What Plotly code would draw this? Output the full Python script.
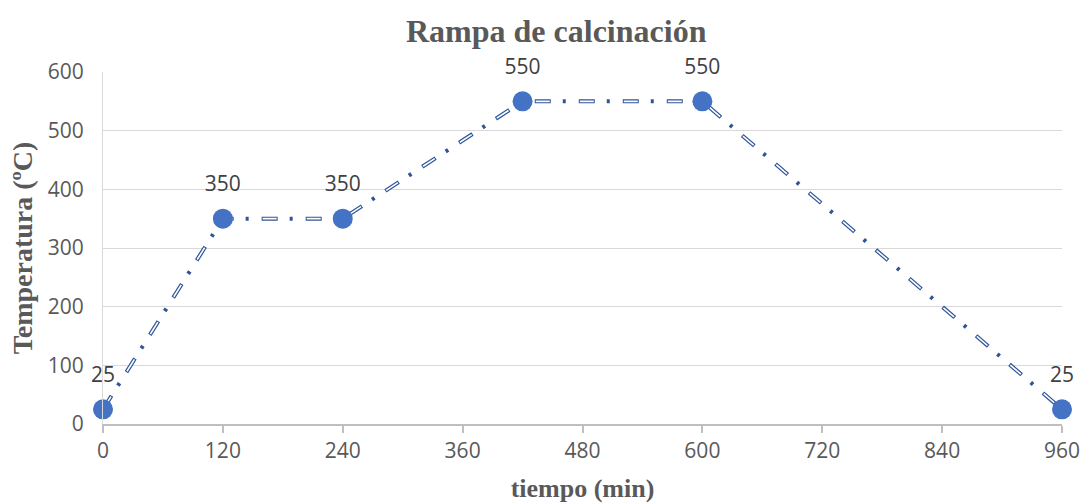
import plotly.graph_objects as go

# Calcination ramp: time (min) vs temperature (ºC)
tiempo = [0, 120, 240, 420, 600, 960]
temperatura = [25, 350, 350, 550, 550, 25]
etiquetas = [str(v) for v in temperatura]

x_ticks = [0, 120, 240, 360, 480, 600, 720, 840, 960]
y_ticks = [0, 100, 200, 300, 400, 500, 600]

NAVY = "#2F5597"
MARKER = "#4472C4"
TEXT = "#595959"

fig = go.Figure()

# Outer dash-dot stroke
fig.add_trace(go.Scatter(
    x=tiempo, y=temperatura, mode="lines",
    line=dict(color=NAVY, width=4, dash="16px,12px,3px,13px"),
    hoverinfo="skip", showlegend=False, cliponaxis=False,
))
# Inner white stroke that hollows out the dashes only
fig.add_trace(go.Scatter(
    x=tiempo, y=temperatura, mode="lines",
    line=dict(color="white", width=1.6, dash="0px,1px,14px,29px"),
    hoverinfo="skip", showlegend=False, cliponaxis=False,
))
# Points
fig.add_trace(go.Scatter(
    x=tiempo, y=temperatura, mode="markers",
    marker=dict(size=20, color=MARKER, line=dict(width=0)),
    showlegend=False, cliponaxis=False,
))
# Value labels, offset a little further above the points
fig.add_trace(go.Scatter(
    x=tiempo, y=temperatura, mode="markers+text",
    marker=dict(size=34, color="rgba(0,0,0,0)", line=dict(width=0)),
    text=etiquetas, textposition="top center",
    textfont=dict(family="Open Sans", size=21, color="#404040"),
    hoverinfo="skip", showlegend=False, cliponaxis=False,
))

fig.update_layout(
    width=1082, height=503,
    margin=dict(l=103, r=20, t=72, b=79),
    paper_bgcolor="white", plot_bgcolor="white",
    font=dict(family="Open Sans", color=TEXT),
    annotations=[
        dict(text="<b>Rampa de calcinación</b>", xref="paper", yref="paper",
             x=0.473, y=1.0, xanchor="center", yanchor="middle", yshift=41,
             showarrow=False,
             font=dict(family="Liberation Serif", size=32, color=TEXT)),
    ],
)

fig.update_xaxes(
    range=[0, 960], tickvals=x_ticks, ticktext=[str(v) for v in x_ticks],
    automargin=False,
    showgrid=False, zeroline=False,
    showline=True, linecolor="#BFBFBF", linewidth=1.5,
    ticks="outside", ticklen=7, tickcolor="#BFBFBF", tickwidth=1.5,
    tickfont=dict(family="Open Sans", size=21, color=TEXT),
    title=dict(text="<b>tiempo (min)</b>", standoff=16,
               font=dict(family="Liberation Serif", size=26, color=TEXT)),
)
fig.update_yaxes(
    range=[0, 600], tickvals=y_ticks, ticktext=[str(v) for v in y_ticks],
    automargin=False,
    showgrid=True, gridcolor="#D9D9D9", gridwidth=1,
    zeroline=False, showline=True, linecolor="#D9D9D9", linewidth=1,
    ticks="", ticklabelstandoff=14,
    tickfont=dict(family="Open Sans", size=21, color=TEXT),
    title=dict(text="<b>Temperatura (ºC)</b>", standoff=6,
               font=dict(family="Liberation Serif", size=28, color=TEXT)),
)

fig.write_html("out.html")
